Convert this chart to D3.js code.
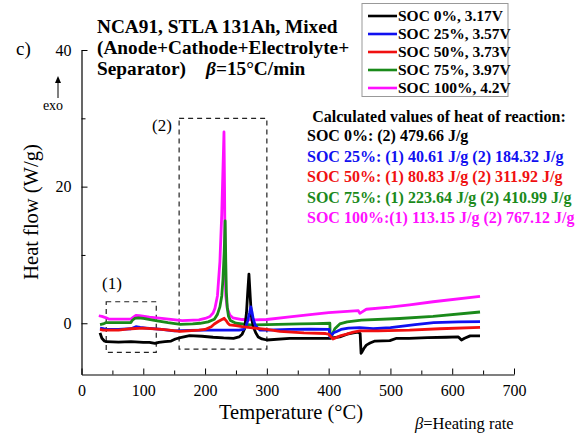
<!DOCTYPE html>
<html><head><meta charset="utf-8">
<script src="https://cdn.jsdelivr.net/npm/d3@7"></script>
<style>body{margin:0;background:#fff}svg{display:block}text{font-family:"Liberation Serif","Times New Roman",serif}</style>
</head><body><svg id="c" width="587" height="434"></svg>
<script>
// ---- data ----
const seriesNames = ["SOC 0%, 3.17V","SOC 25%, 3.57V","SOC 50%, 3.73V","SOC 75%, 3.97V","SOC 100%, 4.2V"];
const seriesColors = ["#000000","#1010f0","#f01010","#1a8a1a","#ff10ff"];
const T0 = [30,33,37,40,60,80,100,110,119,125,135,145,152,160,175,195,213,230,246,255,260,264,267,269,271,273,275,278,282,286,292,300,337,370,400,418,430,440,448,451,452.5,454,457,461,467,475,499,510,530,560,590,610,615,620,629,645];
const H0 = [-1.4,-2.2,-2.6,-2.7,-2.75,-2.7,-2.8,-2.8,-2.95,-2.8,-2.7,-2.6,-2.3,-2.1,-1.8,-1.9,-2.05,-2.15,-2.2,-2.0,-1.6,-0.8,1.5,4.5,7.2,4.0,1.0,-0.5,-1.4,-2.0,-2.3,-2.45,-2.2,-2.2,-2.2,-2.0,-1.6,-1.4,-1.3,-1.5,-4.4,-4.2,-3.7,-3.2,-2.9,-2.6,-2.55,-2.2,-2.2,-2.1,-2.05,-2.0,-2.45,-2.2,-1.85,-1.85];
const T25 = [30,35,40,60,80,88,95,105,130,150,175,200,230,255,262,266,269,272,274,276,278,281,285,289,300,337,370,401,402,404,408,413,420,432,450,472,500,540,570,610,645];
const H25 = [-0.7,-0.8,-0.9,-0.9,-0.8,-0.5,-0.6,-0.7,-0.9,-1.1,-1.05,-1.0,-1.0,-1.0,-0.9,-0.5,0.4,1.5,2.4,1.6,0.6,-0.25,-0.7,-1.0,-1.0,-0.9,-0.85,-0.9,-2.0,-1.8,-1.4,-1.2,-0.9,-0.7,-0.65,-0.8,-0.65,-0.2,0.1,0.2,0.25];
const T50 = [30,35,40,60,80,100,130,160,190,200,210,215,222,228,231,234,237,240,250,260,280,300,321,360,395,400,405,407,412,420,429,440,451,480,531,580,645];
const H50 = [-0.9,-1.0,-1.0,-1.0,-0.8,-0.7,-0.9,-1.2,-1.0,-0.9,-0.5,-0.1,0.3,0.6,0.73,0.4,0.0,-0.25,-0.35,-0.5,-0.7,-0.9,-1.2,-1.4,-1.5,-1.6,-2.1,-2.3,-2.1,-1.8,-1.6,-1.3,-1.1,-1.1,-1.0,-0.8,-0.6];
const T75 = [30,35,40,60,80,82,86,92,100,120,140,160,180,192,205,215,220,224,227,229,231,232.5,233.5,234.5,236,238,241,250,273,300,353,380,402,402.5,405,410,418,430,453,515,569,645];
const H75 = [-0.2,-0.1,0.1,0.1,0.1,0.4,0.7,0.8,0.7,0.4,0.1,-0.15,-0.1,0.0,0.2,0.6,1.3,2.4,4.0,6.5,10.5,15.0,9,4.5,2.2,1.0,0.4,0.0,-0.25,-0.2,-0.1,-0.05,0.0,-2.2,-1.8,-0.8,-0.1,0.2,0.45,0.7,1.0,1.65];
const T100 = [28,33,40,45,60,80,84,88,94,110,130,163,190,200,208,213,216,220,224,227,230.6,231.5,232.5,233.5,236,240,245,260,280,300,337,370,400,430,448,450.5,453,461,499,531,569,645];
const H100 = [1.1,1.0,0.8,0.6,0.6,0.6,0.9,1.15,1.1,0.9,0.7,0.4,0.5,0.7,1.0,1.5,2.2,4,9,16,28,20,8,4,2.2,1.2,0.8,0.55,0.5,0.55,0.95,1.25,1.55,1.75,1.85,1.45,1.6,2.05,2.35,2.7,3.15,3.95];
const xTicks = [0,100,200,300,400,500,600,700];
const yTicks = [0,20,40];
const heatLines = ["SOC 0%: (2) 479.66 J/g","SOC 25%: (1) 40.61 J/g (2) 184.32 J/g","SOC 50%: (1) 80.83 J/g (2) 311.92 J/g","SOC 75%: (1) 223.64 J/g (2) 410.99 J/g","SOC 100%:(1) 113.15 J/g (2) 767.12 J/g"];
const box1 = [40,121,-4.25,3.15];
const box2 = [158,300,-3.8,30];

const series = [[T0,H0],[T25,H25],[T50,H50],[T75,H75],[T100,H100]].map((d,i)=>({name:seriesNames[i],color:seriesColors[i],pts:d[0].map((t,j)=>[t,d[1][j]])}));

// ---- drawing ----
const svg = d3.select("#c");
const x = d3.scaleLinear().domain([0,700]).range([81.5,514]);
const y = d3.scaleLinear().domain([-7.5,40]).range([374.5,50]);

// axes
const gx = svg.append("g").attr("transform","translate(0,374.5)");
gx.call(d3.axisBottom(x).tickValues(xTicks).tickSize(-6).tickPadding(10).tickSizeOuter(0));
gx.append("g").call(d3.axisBottom(x).tickValues(d3.range(50,700,100)).tickSize(-4).tickFormat(""));
const gy = svg.append("g").attr("transform","translate(81.5,0)");
gy.call(d3.axisLeft(y).tickValues(yTicks).tickSize(-6).tickPadding(10).tickSizeOuter(0));
gy.append("g").call(d3.axisLeft(y).tickValues([10,30]).tickSize(-4).tickFormat(""));
svg.selectAll(".domain").attr("stroke","#000").attr("stroke-width",1.2);
svg.selectAll(".tick line").attr("stroke","#000").attr("stroke-width",1);
svg.selectAll(".tick text").attr("font-size",16).attr("font-family","Liberation Serif").attr("fill","#000");
gx.selectAll("g > g > path.domain").remove();
gy.selectAll("g > g > path.domain").remove();

// dashed boxes
[box1,box2].forEach(b=>{
  svg.append("rect").attr("x",x(b[0])).attr("y",y(b[3])).attr("width",x(b[1])-x(b[0])).attr("height",y(b[2])-y(b[3]))
    .attr("fill","none").attr("stroke","#222").attr("stroke-width",1.2).attr("stroke-dasharray","5,4");
});
svg.append("text").attr("x",112).attr("y",289).attr("text-anchor","middle").attr("font-size",17).text("(1)");
svg.append("text").attr("x",162).attr("y",131).attr("text-anchor","middle").attr("font-size",17).text("(2)");

// lines
const line = d3.line().x(d=>x(d[0])).y(d=>y(d[1]));
const order = [4,3,0,1,2];
order.forEach(i=>{
  svg.append("path").attr("d",line(series[i].pts)).attr("fill","none")
    .attr("stroke",series[i].color).attr("stroke-width",2.8).attr("stroke-linejoin","round");
});

// axis titles
svg.append("text").attr("transform","translate(38,212) rotate(-90)").attr("text-anchor","middle").attr("font-size",20.5).text("Heat flow (W/g)");
svg.append("text").attr("x",291).attr("y",419).attr("text-anchor","middle").attr("font-size",20.5).text("Temperature (°C)");
const hr = svg.append("text").attr("x",415).attr("y",429).attr("font-size",16.5);
hr.append("tspan").attr("font-style","italic").text("β");
hr.append("tspan").text("=Heating rate");

// c) and exo arrow
svg.append("text").attr("x",16).attr("y",55).attr("font-size",19).text("c)");
svg.append("text").attr("x",53).attr("y",110).attr("text-anchor","middle").attr("font-size",14).text("exo");
svg.append("line").attr("x1",58).attr("x2",58).attr("y1",98).attr("y2",82).attr("stroke","#000").attr("stroke-width",1);
svg.append("path").attr("d","M55,83 L58,76 L61,83 Z").attr("fill","#000");

// title
const tt = svg.append("g").attr("font-weight","bold").attr("font-size",19.3);
tt.append("text").attr("x",97).attr("y",33).text("NCA91, STLA 131Ah, Mixed");
tt.append("text").attr("x",97).attr("y",54).text("(Anode+Cathode+Electrolyte+");
tt.append("text").attr("x",97).attr("y",75).text("Separator)");
const bt = tt.append("text").attr("x",206).attr("y",75);
bt.append("tspan").attr("font-style","italic").text("β");
bt.append("tspan").text("=15°C/min");

// legend
svg.append("rect").attr("x",362).attr("y",3.5).attr("width",146).attr("height",93).attr("fill","#fff").attr("stroke","#999").attr("stroke-width",1);
const lg = svg.append("g");
series.forEach((s,i)=>{
  const yy = 16 + i*18;
  lg.append("line").attr("x1",368).attr("x2",397).attr("y1",yy).attr("y2",yy).attr("stroke",s.color).attr("stroke-width",2.6);
  lg.append("text").attr("x",398).attr("y",yy+5).attr("font-size",15.5).attr("font-weight","bold").text(s.name);
});

// heat of reaction annotation
svg.append("text").attr("x",439).attr("y",122).attr("text-anchor","middle").attr("font-size",16).attr("font-weight","bold").text("Calculated values of heat of reaction:");
heatLines.forEach((t,i)=>{
  svg.append("text").attr("x",307).attr("y",141+i*20.5).attr("font-size",16).attr("font-weight","bold").attr("fill",seriesColors[i]).text(t);
});
</script></body></html>
